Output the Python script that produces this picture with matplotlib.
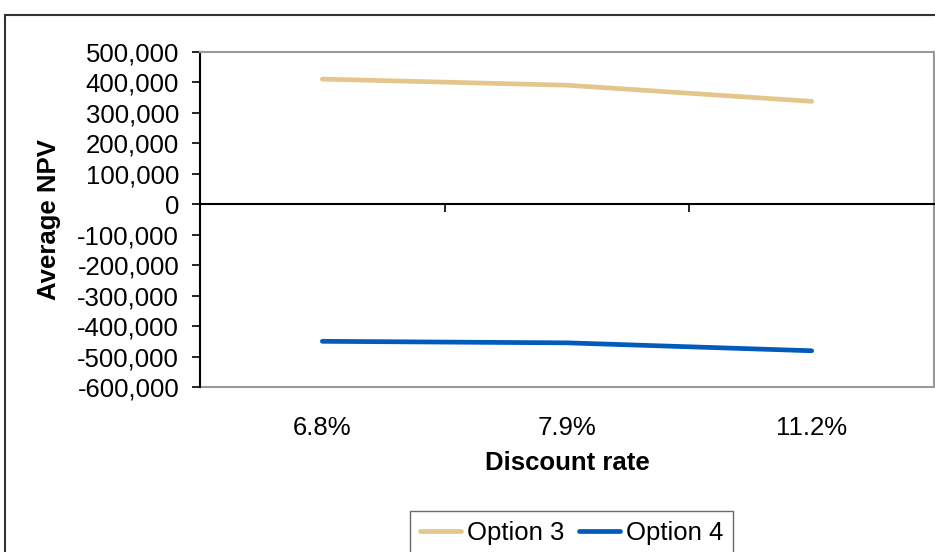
import matplotlib.pyplot as plt
from matplotlib.patches import Rectangle
from matplotlib.ticker import FuncFormatter, FixedLocator

plt.rcParams['font.family'] = ['Liberation Sans', 'DejaVu Sans']

rates = ['6.8%', '7.9%', '11.2%']
option3 = [411000, 391000, 338000]
option4 = [-450000, -455000, -481000]
y_ticks = list(range(-600000, 500001, 100000))

W, H = 935, 552
fig = plt.figure(figsize=(W / 100, H / 100), dpi=100)
ax = fig.add_axes([200 / W, 1 - 387 / H, 734 / W, 335 / H])

x = list(range(len(rates)))
ax.plot(x, option3, color='#E4C68D', lw=3.4, solid_capstyle='round', label='Option 3')
ax.plot(x, option4, color='#005BBB', lw=3.4, solid_capstyle='round', label='Option 4')

ax.set_xlim(-0.5, len(rates) - 0.5)
ax.set_ylim(-600000, 500000)
ax.set_yticks(y_ticks)
ax.yaxis.set_major_formatter(FuncFormatter(lambda v, p: f'{v:,.0f}'))
ax.tick_params(axis='y', direction='out', length=6, width=1.2, labelsize=18.5, pad=9)

# x axis crossing at zero with ticks at category boundaries
ax.spines['bottom'].set_position(('data', 0))
ax.spines['bottom'].set_color('black')
ax.spines['bottom'].set_linewidth(1.5)
ax.spines['left'].set_color('black')
ax.spines['left'].set_linewidth(1.5)
for s in ['top', 'right']:
    ax.spines[s].set_color('#999999')
    ax.spines[s].set_linewidth(1.5)
ax.xaxis.set_major_locator(FixedLocator([i + 0.5 for i in range(len(rates))]))
ax.set_xticklabels([])
ax.tick_params(axis='x', direction='out', length=6, width=1.2)

sec = ax.secondary_xaxis('bottom')
sec.set_xticks(x)
sec.set_xticklabels(rates)
sec.tick_params(length=0, labelsize=18.5, pad=21)
sec.spines['bottom'].set_color('#999999')
sec.spines['bottom'].set_linewidth(1.5)
sec.set_xlabel('Discount rate', fontsize=18.5, fontweight='bold', labelpad=8)

ax.set_ylabel('Average NPV', fontsize=18.5, fontweight='bold', labelpad=12)

fig.legend(loc='upper left', bbox_to_anchor=(410 / W, 1 - 511 / H), ncol=2,
           fontsize=18.5, frameon=True, fancybox=False, edgecolor='#444444',
           handlelength=1.6, handletextpad=0.2, columnspacing=0.6,
           borderpad=0.4, borderaxespad=0)

fig.patches.append(Rectangle((5 / W, -0.1), 1.2, 1.1 - 15 / H, transform=fig.transFigure,
                             fill=False, edgecolor='#333333', lw=1.5))

fig.savefig('out.png', dpi=100)
